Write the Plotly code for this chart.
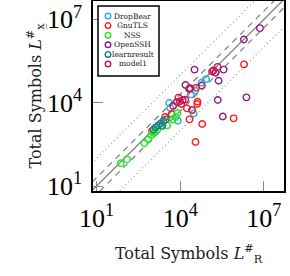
import plotly.graph_objects as go

# ---- data ----
series_names = ["DropBear", "GnuTLS", "NSS", "OpenSSH", "learnresult", "model1"]
series_colors = ["#1ab2ee", "#ff1a1a", "#22e622", "#8b1a8b", "#138585", "#cc1650"]

dropbear_x = [8.34e4, 5.79e4, 3.44e4, 2.40e4, 3.99e3, 2.61e4, 8.20e3, 4.34e3, 3.03e4]
dropbear_y = [7.06e4, 5.20e4, 2.68e4, 1.99e4, 9.68e3, 5.28e3, 2.23e3, 6.40e3, 4.06e3]

gnutls_x = [1.94e6, 4.16e4, 4.06e4, 2.68e4, 2.14e4, 6.14e4, 8.20e5, 3.52e4, 3.73e4,
            1.73e4, 4.91e3, 2.09e4, 2.86e3, 975]
gnutls_y = [2.39e5, 1.08e4, 8.91e3, 5.42e3, 2.51e3, 1.70e3, 2.72e3, 383, 3.44e4,
            6.24e3, 3.89e3, 3.09e4, 3.03e3, 951]

nss_x = [72.9, 123, 515, 718, 920, 1.10e3, 7.93e3, 6.84e3, 5.33e3, 3.38e3, 1.48e3, 1.25e3]
nss_y = [65.6, 91.2, 344, 479, 667, 805, 4.23e3, 3.03e3, 2.47e3, 1.50e3, 1.03e3, 875]

openssh_x = [7.18e6, 1.91e6, 3.24e4, 3.58e5, 2.37e5, 1.54e4, 2.21e5, 2.35e6, 3.35e5,
             1.85e5, 2.27e4]
openssh_y = [4.82e6, 1.89e6, 1.55e5, 1.55e5, 6.14e4, 4.30e4, 1.24e4, 1.55e4, 3.16e3,
             1.19e5, 3.35e4]

learn_x = [3.03e3, 2.49e3, 1.97e3, 1.60e3, 1.30e3, 1.10e3, 2.23e3]
learn_y = [2.51e3, 2.18e3, 1.77e3, 1.50e3, 1.27e3, 1.08e3, 1.44e3]

model1_x = [2.18e5, 1.56e5, 1.38e5, 2.14e4, 1.50e4, 1.22e4, 9.51e3, 7.43e3, 8.61e3,
            5.56e3, 1.08e4, 5.89e4]
model1_y = [1.95e5, 1.45e5, 1.32e5, 3.21e4, 1.29e4, 1.24e4, 1.10e4, 1.05e4, 1.52e4,
            7.55e3, 8.91e3, 4.12e4]

series_x = [dropbear_x, gnutls_x, nss_x, openssh_x, learn_x, model1_x]
series_y = [dropbear_y, gnutls_y, nss_y, openssh_y, learn_y, model1_y]

# reference lines y = factor * x
ref_factors = [10, 0.1, 2, 0.5, 1]
ref_styles = ["dot", "dot", "dash", "dash", "solid"]
ref_span = [1, 1e9]

tick_vals = [10, 1e4, 1e7]
tick_text = ["10<sup>1</sup>", "10<sup>4</sup>", "10<sup>7</sup>"]

fig = go.Figure()

for f, st in zip(ref_factors, ref_styles):
    dash = {"dot": "1px,3px", "dash": "6px,5px", "solid": "solid"}[st]
    col = "#9a9a9a" if st == "dot" else "#7a7a7a"
    fig.add_trace(go.Scatter(
        x=ref_span, y=[v * f for v in ref_span], mode="lines",
        line=dict(color=col, width=1.2, dash=dash),
        showlegend=False, hoverinfo="skip"))

for name, col, xs, ys in zip(series_names, series_colors, series_x, series_y):
    fig.add_trace(go.Scatter(
        x=xs, y=ys, mode="markers", name=name,
        marker=dict(symbol="circle-open", size=6.5, color=col, line=dict(width=1.4, color=col)),
        showlegend=False))

axis_common = dict(
    type="log", showgrid=False, zeroline=False,
    showline=True, linecolor="black", linewidth=1.5, mirror=True,
    ticks="inside", ticklen=10, tickwidth=1, tickcolor="#888888",
    tickvals=tick_vals, ticktext=tick_text,
    tickfont=dict(family="Liberation Serif", size=26, color="black"),
)

fig.update_xaxes(**axis_common, range=[0.87, 7.72], ticklabelstandoff=3,
                 title=dict(text="Total Symbols <i>L</i><sup>#</sup><sub>R</sub>",
                            font=dict(family="DejaVu Serif", size=16, color="#222"),
                            standoff=16))
fig.update_yaxes(**axis_common, range=[0.82, 7.66], ticklabelstandoff=4,
                 title=dict(text="Total Symbols <i>L</i><sup>#</sup><sub>x̲</sub>",
                            font=dict(family="DejaVu Serif", size=16, color="#222"),
                            standoff=0))

# custom compact legend (box + circle markers + centered text)
plot_w, plot_h = 191, 190
box = dict(x0=5 / plot_w, x1=66 / plot_w, y0=1 - 75 / plot_h, y1=1 - 5 / plot_h)
fig.add_shape(type="rect", xref="paper", yref="paper", **box,
              line=dict(color="black", width=1.5), fillcolor="white", layer="above")
for i, (name, col) in enumerate(zip(series_names, series_colors)):
    cy = 1 - (15 + 9.6 * i) / plot_h
    cx = 15 / plot_w
    rx, ry = 2.8 / plot_w, 2.8 / plot_h
    fig.add_shape(type="circle", xref="paper", yref="paper",
                  x0=cx - rx, x1=cx + rx, y0=cy - ry, y1=cy + ry,
                  line=dict(color=col, width=1.4), layer="above")
    fig.add_annotation(xref="paper", yref="paper", x=39.5 / plot_w, y=cy,
                       text=name, showarrow=False, xanchor="center", yanchor="middle",
                       font=dict(family="DejaVu Serif", size=7.5, color="#222"))

fig.update_layout(
    width=290, height=276,
    margin=dict(l=93, r=6, t=1, b=85, autoexpand=False),
    plot_bgcolor="white", paper_bgcolor="white",
    showlegend=False,
)

fig.write_html("out.html", config={"displayModeBar": False},
               post_script="document.body.style.margin='0';")
